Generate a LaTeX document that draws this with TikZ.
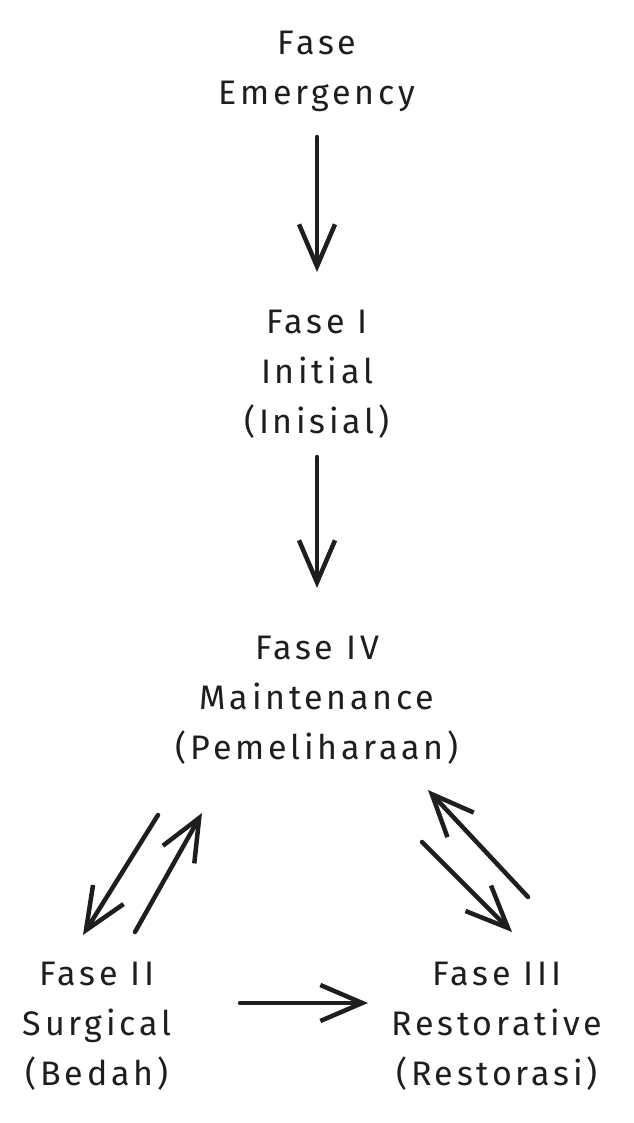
\documentclass[tikz,border=0pt]{standalone}
\usepackage{fontspec}
\setmainfont{Fira Sans}[LetterSpace=11]
\usetikzlibrary{arrows.meta}
\definecolor{ink}{HTML}{1E1E1E}
\tikzset{
  lbl/.style={align=center, text=ink, font=\fontsize{34}{50}\selectfont, inner sep=0pt},
  conn/.style={draw=ink, line width=4.5pt, line cap=round, line join=round,
    -{Straight Barb[length=42pt, width=36pt, line width=4.5pt]}}
}
\begin{document}
\begin{tikzpicture}[x=1pt,y=-1pt]
\useasboundingbox[fill=white] (0,0) rectangle (633,1123);
\node[lbl] (em) at (317,71) {Fase\\Emergency};
\node[lbl] (f1) at (317,374) {Fase I\\Initial\\(Inisial)};
\node[lbl] (f4) at (317,700) {Fase IV\\Maintenance\\(Pemeliharaan)};
\node[lbl] (f2) at (97,1026) {Fase II\\Surgical\\(Bedah)};
\node[lbl] (f3) at (497,1026) {Fase III\\Restorative\\(Restorasi)};
\coordinate (a1s) at (317,137); \coordinate (a1e) at (317,272);
\coordinate (a2s) at (317,457); \coordinate (a2e) at (317,588);
\coordinate (lds) at (158,815); \coordinate (lde) at (83,935);
\coordinate (lus) at (135,932); \coordinate (lue) at (202,813);
\coordinate (rus) at (528,897); \coordinate (rue) at (428,790);
\coordinate (rds) at (422,842); \coordinate (rde) at (512,932);
\coordinate (bs) at (240,1003); \coordinate (be) at (368,1003);
\draw[conn] (a1s) -- (a1e);
\draw[conn] (a2s) -- (a2e);
\draw[conn] (lds) -- (lde);
\draw[conn] (lus) -- (lue);
\draw[conn] (rus) -- (rue);
\draw[conn] (rds) -- (rde);
\draw[conn] (bs) -- (be);
\end{tikzpicture}
\end{document}
